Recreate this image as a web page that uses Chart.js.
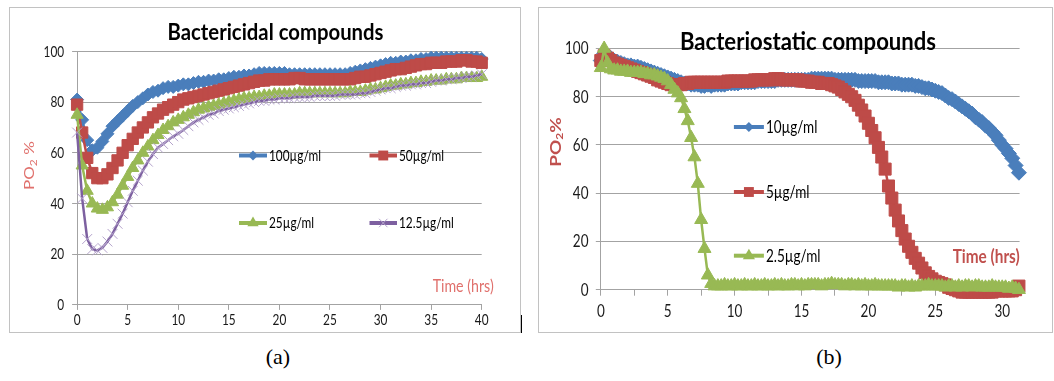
<!DOCTYPE html>
<html>
<head>
<meta charset="utf-8">
<script src="https://cdn.jsdelivr.net/npm/chart.js@4.4.1/dist/chart.umd.min.js"></script>
<style>
	body { margin: 0; width: 1054px; height: 381px; background: #fff; position: relative; overflow: hidden; }
	.panel { position: absolute; border: 1px solid #c2c2c2; background: #fff; }
	.panel canvas { display: block; }
	#panelA { left: 9px; top: 7px; width: 510px; height: 324px; }
	#panelB { left: 538px; top: 7px; width: 513px; height: 324px; }
	.caption { position: absolute; top: 344px; width: 60px; text-align: center; font-family: 'Liberation Serif', 'Times New Roman', serif; font-size: 22px; color: #000; }
	#mark { position: absolute; left: 521px; top: 315px; width: 1px; height: 18px; background: #000; }
</style>
</head>
<body>
<div class="panel" id="panelA"><canvas id="chartA" width="510" height="324"></canvas></div>
<div class="panel" id="panelB"><canvas id="chartB" width="513" height="324"></canvas></div>
<div id="mark"></div>
<div class="caption" style="left:248px">(a)</div>
<div class="caption" style="left:799px">(b)</div>
<script>
'use strict';

// ---- (a) Bactericidal compounds, readings every 0.5 h ----
const hoursA = [
	0, 0.5, 1, 1.5, 2, 2.5, 3, 3.5, 4, 4.5,
	5, 5.5, 6, 6.5, 7, 7.5, 8, 8.5, 9, 9.5,
	10, 10.5, 11, 11.5, 12, 12.5, 13, 13.5, 14, 14.5,
	15, 15.5, 16, 16.5, 17, 17.5, 18, 18.5, 19, 19.5,
	20, 20.5, 21, 21.5, 22, 22.5, 23, 23.5, 24, 24.5,
	25, 25.5, 26, 26.5, 27, 27.5, 28, 28.5, 29, 29.5,
	30, 30.5, 31, 31.5, 32, 32.5, 33, 33.5, 34, 34.5,
	35, 35.5, 36, 36.5, 37, 37.5, 38, 38.5, 39, 39.5,
	40
];
const po2_100 = [
	81, 73, 65, 61, 62, 64.5, 67.5, 70.5, 72.5, 74.5,
	76.5, 78.5, 80, 81.5, 83, 84, 84.5, 85.5, 86, 86,
	86.5, 87, 87, 87.5, 88, 88, 88.5, 88.5, 89, 89,
	89.5, 90, 90, 90.5, 90.5, 91, 91.5, 91.5, 91.5, 91.5,
	91.5, 91.5, 91, 91, 91, 91, 91, 91, 91, 91,
	91, 91, 91, 91, 91.5, 92, 92.5, 93, 93.5, 94,
	94.5, 95, 95.5, 95.5, 96, 96, 96.5, 96.5, 97, 97,
	97.5, 97.5, 97.5, 97.5, 97.5, 97.5, 97.5, 97.5, 97.5, 97.5,
	97
];
const po2_50 = [
	79, 68, 58, 52, 50, 50, 51.5, 54, 57, 60,
	63, 65.5, 68, 70, 72, 74, 75.5, 77, 78, 79,
	80, 81, 81.5, 82, 82.5, 83, 83.5, 84, 84.5, 85,
	85.5, 86, 86.5, 87, 87.5, 88, 88.5, 88.5, 89, 89,
	89, 89, 89, 89.5, 89.5, 89, 89, 89, 89, 89,
	89, 89, 89, 89, 89, 89.5, 90, 90, 90.5, 91,
	91.5, 92, 92.5, 93, 93, 93.5, 94, 94.5, 95, 95,
	95.5, 95.5, 95.5, 96, 96, 96, 96.5, 96.5, 96, 96,
	95.5
];
const po2_25 = [
	75, 55, 45, 40, 38, 37.5, 38.5, 40.5, 43.5, 47,
	50.5, 54, 57, 60, 62.5, 65, 67, 69, 70.5, 72,
	73, 74, 75, 76, 77, 77.5, 78, 78.5, 79, 79.5,
	80, 80.5, 81, 81.5, 81.5, 82, 82, 82.5, 82.5, 83,
	83, 83, 83, 83, 83.5, 83.5, 83.5, 83.5, 83.5, 83.5,
	83.5, 83.5, 83.5, 83.5, 84, 84, 84, 84.5, 85, 85,
	85.5, 86, 86.5, 86.5, 87, 87, 87.5, 87.5, 88, 88,
	88.5, 88.5, 88.5, 89, 89, 89, 89.5, 89.5, 89.5, 89.5,
	90
];
const po2_12_5 = [
	68, 42, 26, 22, 21.5, 22.5, 25, 28, 32, 36,
	40.5, 45, 49, 53, 56.5, 59.5, 62, 63.5, 65, 66.5,
	67.5, 69, 70.5, 72, 73, 74, 75, 75.5, 76.5, 77,
	77.5, 78, 78.5, 79, 79.5, 80, 80.5, 80.5, 81, 81,
	81.5, 81.5, 81.5, 82, 82, 82, 82, 82.5, 82.5, 82.5,
	82.5, 82.5, 83, 83, 83, 83, 83.5, 83.5, 84, 84.5,
	85, 85.5, 85.5, 86, 86.5, 86.5, 87, 87, 87.5, 87.5,
	88, 88.5, 88.5, 89, 89, 89.5, 89.5, 90, 90, 90.5,
	91
];

// ---- (b) Bacteriostatic compounds, readings every 0.25 h ----
const hoursB = [
	0, 0.25, 0.5, 0.75, 1, 1.25, 1.5, 1.75,
	2, 2.25, 2.5, 2.75, 3, 3.25, 3.5, 3.75,
	4, 4.25, 4.5, 4.75, 5, 5.25, 5.5, 5.75,
	6, 6.25, 6.5, 6.75, 7, 7.25, 7.5, 7.75,
	8, 8.25, 8.5, 8.75, 9, 9.25, 9.5, 9.75,
	10, 10.25, 10.5, 10.75, 11, 11.25, 11.5, 11.75,
	12, 12.25, 12.5, 12.75, 13, 13.25, 13.5, 13.75,
	14, 14.25, 14.5, 14.75, 15, 15.25, 15.5, 15.75,
	16, 16.25, 16.5, 16.75, 17, 17.25, 17.5, 17.75,
	18, 18.25, 18.5, 18.75, 19, 19.25, 19.5, 19.75,
	20, 20.25, 20.5, 20.75, 21, 21.25, 21.5, 21.75,
	22, 22.25, 22.5, 22.75, 23, 23.25, 23.5, 23.75,
	24, 24.25, 24.5, 24.75, 25, 25.25, 25.5, 25.75,
	26, 26.25, 26.5, 26.75, 27, 27.25, 27.5, 27.75,
	28, 28.25, 28.5, 28.75, 29, 29.25, 29.5, 29.75,
	30, 30.25, 30.5, 30.75, 31, 31.25
];
const po2_10 = [
	95, 98, 97, 96, 95, 94.5, 94, 93.5,
	93, 93, 92.5, 92.5, 92, 91.5, 91, 90.5,
	90, 89.5, 89, 88.5, 88, 87.5, 87, 86.5,
	86, 85.5, 85.5, 85, 85, 85, 84.5, 84.5,
	85, 84.5, 85, 85, 85, 85, 85.5, 85.5,
	85.5, 85.5, 86, 86, 86, 86, 86, 86.5,
	86.5, 86.5, 86.5, 86.5, 86.5, 87, 87, 87,
	87, 87, 87, 87, 87, 87, 87, 87.5,
	87.5, 87.5, 87.5, 87.5, 87.5, 87.5, 87, 87,
	87, 87, 87, 87, 87, 86.5, 86.5, 86.5,
	86.5, 86.5, 86.5, 86, 86, 86, 86, 85.5,
	85.5, 85.5, 85, 85, 85, 85, 84.5, 84.5,
	84, 83.5, 83.5, 83, 82.5, 82, 81.5, 80.5,
	79.5, 79, 78, 77, 76, 75, 74, 73,
	71.5, 70.5, 69.5, 68, 67, 65.5, 64, 62,
	60, 58.5, 56.5, 54.5, 51.5, 48.5
];
const po2_5 = [
	95, 97, 96, 95, 94, 93.5, 93, 92.5,
	92, 91.5, 91, 90.5, 90, 89.5, 89, 88.5,
	88, 87, 86.5, 86, 85.5, 85, 85, 85,
	85, 85.5, 85.5, 86, 86, 86, 86, 86,
	86, 86, 86, 86, 86, 86, 86.5, 86.5,
	86.5, 86.5, 86.5, 86.5, 86.5, 86.5, 87, 87,
	87, 87, 87, 87, 87.5, 87.5, 87, 87,
	87, 87, 87, 87, 86.5, 86.5, 86.5, 86,
	86, 86, 85.5, 85.5, 85.5, 85, 84.5, 84,
	83, 82, 81, 80, 78.5, 76.5, 74.5, 72,
	69, 66, 63, 59, 55, 50, 43, 38,
	33, 28.5, 24.5, 21, 18, 15.5, 13, 11,
	9, 7, 5.5, 4.5, 3.5, 3, 2.5, 2,
	1, 0.5, 0, -0.5, -1, -1, -1, -1,
	-1, -1, -1, -1, -1, -1, -0.5, -0.5,
	-0.5, -0.5, -0.5, -0.5, 0, 1.5
];
const po2_2_5 = [
	92, 100, 94, 91.5, 91, 91, 90.5, 90.5,
	90.5, 90, 90, 90, 90, 89.5, 89.5, 89,
	89, 88.5, 88, 87.5, 86.5, 85, 83, 81.5,
	79.5, 75, 70, 63, 55, 44, 29, 17,
	6, 2.5, 1.5, 1.5, 1.5, 2, 1.5, 1.5,
	2, 1.5, 1.5, 2, 1.5, 1.5, 2, 1.5,
	1.5, 2, 1.5, 1.5, 2, 1.5, 2, 1.5,
	1.5, 2, 2, 1.5, 2, 1.5, 2, 2,
	2, 2, 1.5, 2, 2, 2.5, 2, 2,
	2, 1.5, 2, 2, 1.5, 2, 1.5, 2,
	1.5, 1.5, 2, 1.5, 1.5, 1.5, 1.5, 1.5,
	1.5, 1, 1.5, 1.5, 1, 1.5, 1, 1.5,
	1.5, 1.5, 2, 1.5, 1.5, 1.5, 1.5, 1,
	1.5, 1.5, 1, 1.5, 1, 1.5, 1.5, 1,
	1.5, 1.5, 1, 1, 1, 1.5, 1, 1,
	1, 1, 0.5, 1, 0.5, 0
];

const FONT = "Lato, 'Noto Sans', sans-serif";
const GRID = '#a3a3a3';
const BLUE = '#4a7ebb';
const RED = '#be4b48';
const GREEN = '#98b954';
const PURPLE = '#7d60a0';
const PURPLE_LIGHT = '#b4a3cb';

function toPoints(xs, ys) {
	return xs.map((x, i) => ({ x: x, y: ys[i] }));
}

function drawMarker(ctx, style, x, y, r) {
	ctx.beginPath();
	switch (style) {
		case 'rectRot':
			ctx.moveTo(x, y - r);
			ctx.lineTo(x + r, y);
			ctx.lineTo(x, y + r);
			ctx.lineTo(x - r, y);
			ctx.closePath();
			ctx.fill();
			break;
		case 'rect':
			ctx.rect(x - r * 0.707, y - r * 0.707, r * 1.414, r * 1.414);
			ctx.fill();
			break;
		case 'triangle':
			ctx.moveTo(x, y - r);
			ctx.lineTo(x + r * 0.866, y + r * 0.5);
			ctx.lineTo(x - r * 0.866, y + r * 0.5);
			ctx.closePath();
			ctx.fill();
			break;
		default:
			ctx.lineWidth = 1;
			ctx.moveTo(x - r * 0.707, y - r * 0.707);
			ctx.lineTo(x + r * 0.707, y + r * 0.707);
			ctx.moveTo(x - r * 0.707, y + r * 0.707);
			ctx.lineTo(x + r * 0.707, y - r * 0.707);
			ctx.stroke();
	}
}

// the source figure is squeezed sideways, so text is drawn narrowed
function squeezeText(ctx, text, x, y, align, sx) {
	ctx.save();
	ctx.translate(x, y);
	ctx.scale(sx, 1);
	ctx.textAlign = align;
	ctx.fillText(text, 0, 0);
	ctx.restore();
}

// tick labels, titles, axis captions and the in-plot legend
const panelText = {
	id: 'panelText',
	afterDatasetsDraw(chart, args, o) {
		const ctx = chart.ctx;
		const area = chart.chartArea;
		const xs = chart.scales.x;
		const ys = chart.scales.y;
		ctx.save();
		ctx.textBaseline = 'middle';

		// tick labels
		ctx.fillStyle = '#1a1a1a';
		ctx.font = o.tickFont;
		xs.ticks.forEach((t) => {
			if (t.value % 5 !== 0) return;
			squeezeText(ctx, String(t.value), xs.getPixelForValue(t.value), area.bottom + o.xLabelOff, 'center', o.squeeze);
		});
		ys.ticks.forEach((t) => {
			squeezeText(ctx, String(t.value), area.left - o.yLabelOff, ys.getPixelForValue(t.value), 'right', o.squeeze);
		});

		// title
		ctx.fillStyle = '#000';
		ctx.font = o.titleFont;
		squeezeText(ctx, o.title, o.titleX, o.titleY, 'center', o.titleWidth / ctx.measureText(o.title).width);

		// "Time (hrs)"
		ctx.fillStyle = o.redText;
		ctx.font = o.timeFont;
		squeezeText(ctx, 'Time (hrs)', o.timeX, o.timeY, 'left', o.timeWidth / ctx.measureText('Time (hrs)').width);

		// PO2 % (rotated, with subscript)
		ctx.save();
		ctx.translate(o.yTitleX, o.yTitleY);
		ctx.rotate(-Math.PI / 2);
		ctx.scale(1, o.squeeze);
		ctx.textAlign = 'left';
		const parts = [['PO', o.yFont, 0], ['2', o.ySubFont, 5], [o.ySuffix, o.yFont, 0]];
		let total = 0;
		parts.forEach((p) => { ctx.font = p[1]; total += ctx.measureText(p[0]).width; });
		let px = -total / 2;
		parts.forEach((p) => {
			ctx.font = p[1];
			ctx.fillText(p[0], px, p[2]);
			px += ctx.measureText(p[0]).width;
		});
		ctx.restore();

		// legend
		o.legend.forEach((item) => {
			const ds = chart.data.datasets[item.index];
			ctx.strokeStyle = ds.borderColor;
			ctx.lineWidth = 4;
			ctx.beginPath();
			ctx.moveTo(item.x1, item.y);
			ctx.lineTo(item.x2, item.y);
			ctx.stroke();
			ctx.fillStyle = ds.pointBackgroundColor;
			ctx.strokeStyle = ds.pointBorderColor;
			drawMarker(ctx, ds.pointStyle, (item.x1 + item.x2) / 2, item.y, item.r);
			ctx.fillStyle = '#000';
			ctx.font = o.legendFont;
			squeezeText(ctx, ds.label, item.x2 + 2, item.y, 'left', o.squeeze);
		});
		ctx.restore();
	}
};

function makeSeries(label, xs, ys, color, style, radius, order, markColor) {
	return {
		label: label,
		data: toPoints(xs, ys),
		borderColor: color,
		backgroundColor: color,
		borderWidth: 2.5,
		pointStyle: style,
		pointRadius: radius,
		pointBackgroundColor: markColor || color,
		pointBorderColor: markColor || color,
		pointBorderWidth: 1,
		tension: 0,
		clip: false,
		order: order,
	};
}

function makeOptions(cfg) {
	return {
		responsive: false,
		animation: false,
		events: [],
		layout: { padding: cfg.padding },
		plugins: {
			legend: { display: false },
			tooltip: { enabled: false },
			panelText: cfg.text,
		},
		scales: {
			x: {
				type: 'linear',
				min: 0,
				max: cfg.xMax,
				afterFit: (s) => { s.height = cfg.xHeight; },
				ticks: { display: false, stepSize: cfg.xStep, includeBounds: false, autoSkip: false },
				grid: { drawOnChartArea: false, drawTicks: true, tickLength: cfg.xTick, color: GRID },
				border: { color: GRID, width: 1 },
			},
			y: {
				min: 0,
				max: 100,
				afterFit: (s) => { s.width = cfg.yWidth; },
				ticks: { display: false, stepSize: 20 },
				grid: { color: GRID, drawTicks: true, tickLength: 5 },
				border: { color: GRID, width: 1 },
			},
		},
	};
}

new Chart(document.getElementById('chartA'), {
	type: 'line',
	data: {
		datasets: [
			makeSeries('100µg/ml', hoursA, po2_100, BLUE, 'rectRot', 6.5, 4),
			makeSeries('50µg/ml', hoursA, po2_50, RED, 'rect', 8, 3),
			makeSeries('25µg/ml', hoursA, po2_25, GREEN, 'triangle', 7, 2),
			makeSeries('12.5µg/ml', hoursA, po2_12_5, PURPLE, 'crossRot', 7, 1, PURPLE_LIGHT),
		],
	},
	options: makeOptions({
		padding: { left: 0, right: 38.3, top: 43.4, bottom: 0 },
		xMax: 40, xStep: 5, xHeight: 27.1, xTick: 5,
		yWidth: 67.1,
		text: {
			tickFont: '16px ' + FONT, squeeze: 0.74, xLabelOff: 14.5, yLabelOff: 12.9,
			title: 'Bactericidal compounds', titleWidth: 216,
			titleFont: 'bold 23px ' + FONT, titleX: 265.5, titleY: 25,
			redText: '#e0716d',
			timeFont: '17px ' + FONT, timeWidth: 61, timeX: 422.7, timeY: 278.6,
			yFont: '17px ' + FONT, ySubFont: '12px ' + FONT, ySuffix: ' %',
			yTitleX: 20.4, yTitleY: 157.6,
			legendFont: '16px ' + FONT,
			legend: [
				{ index: 0, x1: 229, x2: 257, y: 147.5, r: 5 },
				{ index: 1, x1: 359.5, x2: 387, y: 147.5, r: 7 },
				{ index: 2, x1: 229, x2: 257, y: 215, r: 6.5 },
				{ index: 3, x1: 359.5, x2: 387, y: 215, r: 6 },
			],
		},
	}),
	plugins: [panelText],
});

new Chart(document.getElementById('chartB'), {
	type: 'line',
	data: {
		datasets: [
			makeSeries('10µg/ml', hoursB, po2_10, BLUE, 'rectRot', 7.5, 3),
			makeSeries('5µg/ml', hoursB, po2_5, RED, 'rect', 8.5, 2),
			makeSeries('2.5µg/ml', hoursB, po2_2_5, GREEN, 'triangle', 7.5, 1),
		],
	},
	options: makeOptions({
		padding: { left: 0, right: 32.4, top: 40.5, bottom: 0 },
		xMax: 31.3, xStep: 2.5, xHeight: 42.3, xTick: 6,
		yWidth: 61.8,
		text: {
			tickFont: '18px ' + FONT, squeeze: 0.75, xLabelOff: 21.1, yLabelOff: 12.3,
			title: 'Bacteriostatic compounds', titleWidth: 256,
			titleFont: 'bold 25px ' + FONT, titleX: 269, titleY: 33.8,
			redText: '#c0504d',
			timeFont: 'bold 18px ' + FONT, timeWidth: 67, timeX: 413.7, timeY: 248.7,
			yFont: 'bold 19px ' + FONT, ySubFont: 'bold 12px ' + FONT, ySuffix: '%',
			yTitleX: 17.7, yTitleY: 134,
			legendFont: '18px ' + FONT,
			legend: [
				{ index: 0, x1: 194.9, x2: 224.9, y: 119, r: 5 },
				{ index: 1, x1: 194.9, x2: 224.9, y: 184, r: 7 },
				{ index: 2, x1: 194.9, x2: 224.9, y: 247.7, r: 7 },
			],
		},
	}),
	plugins: [panelText],
});
</script>
</body>
</html>
